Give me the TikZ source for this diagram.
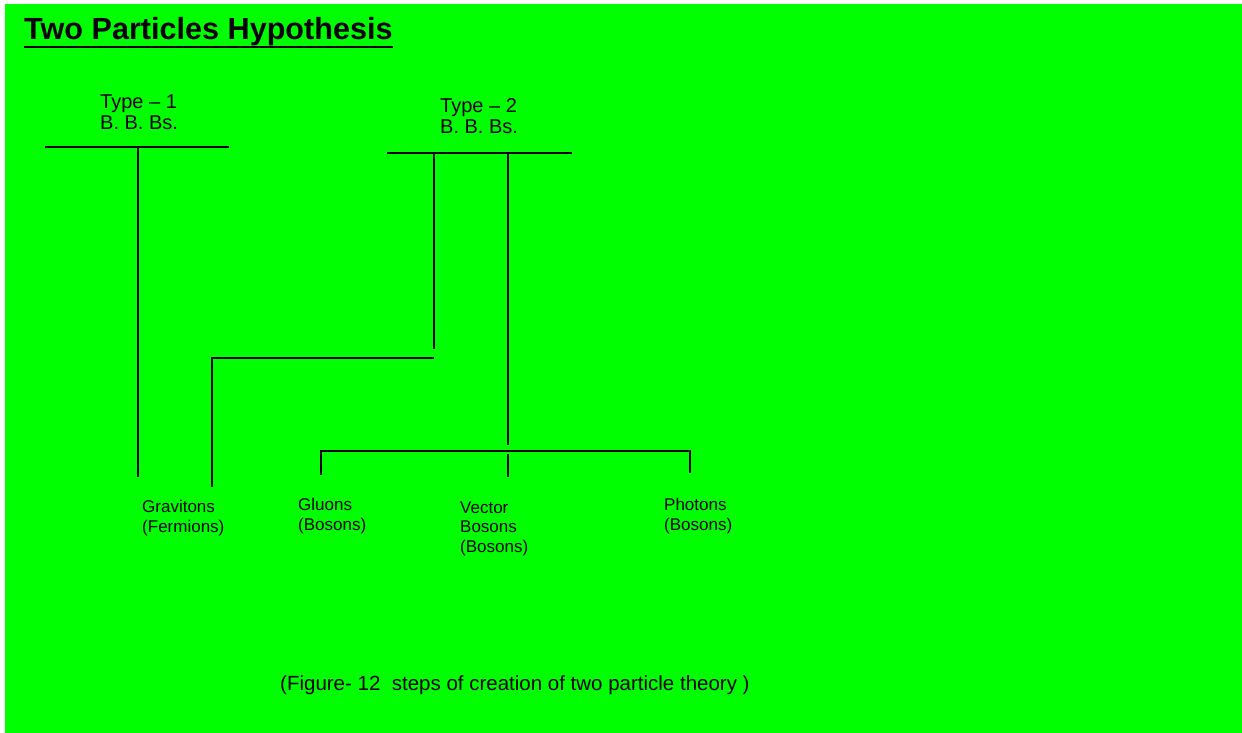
\documentclass[tikz,border=0pt]{standalone}
\usepackage{fontspec}
\setmainfont{Liberation Sans}

\tikzset{
  wire/.style={black, line width=1.5pt},
  lbl/.style={anchor=base west, inner sep=0pt, align=left, font=\fontsize{17}{19.5}\selectfont},
  typelbl/.style={anchor=base west, inner sep=0pt, align=left, font=\fontsize{20}{21.5}\selectfont},
}

\begin{document}
\begin{tikzpicture}[x=1pt,y=-1pt]
\useasboundingbox (0,0) rectangle (1242,733);
\fill [white] (0,0) rectangle (1242,733);
\fill [green] (5,4) rectangle (1242,733);
% title
\node [anchor=base west, inner sep=0pt, font=\bfseries\fontsize{30.6}{36}\selectfont] (title) at (24,40) {Two Particles Hypothesis};
\draw [line width=2.5pt] ([yshift=-7pt]title.base west) -- ([yshift=-7pt]title.base east);
% type labels (anchored on the last line)
\node [typelbl] (type1) at (100,130) {Type – 1\\B. B. Bs.};
\node [typelbl] (type2) at (440,134) {Type – 2\\B. B. Bs.};
% particle labels
\node [lbl] (grav) at (142,532) {Gravitons\\(Fermions)};
\node [lbl] (gluon) at (298,530) {Gluons\\(Bosons)};
\node [lbl] (vector) at (460,552) {Vector\\Bosons\\(Bosons)};
\node [lbl] (photon) at (664,530) {Photons\\(Bosons)};
\node [lbl, font=\fontsize{20.5}{24}\selectfont] (caption) at (280,690) {(Figure- 12~ steps of creation of two particle theory )};
% junction points
\coordinate (t1l) at (45,147);
\coordinate (t1r) at (229,147);
\coordinate (t1m) at (138,147);
\coordinate (t1end) at (138,477);
\coordinate (t2l) at (387,153);
\coordinate (t2r) at (572,153);
\coordinate (t2a) at (434,153);
\coordinate (t2aend) at (434,349);
\coordinate (kneer) at (434,358);
\coordinate (kneel) at (212,358);
\coordinate (gravend) at (212,487);
\coordinate (t2b) at (508,153);
\coordinate (t2bend) at (508,445);
\coordinate (busl) at (321,451);
\coordinate (busr) at (690,451);
\coordinate (busm) at (508,454);
\coordinate (gluonend) at (321,475);
\coordinate (vectorend) at (508,477);
\coordinate (photonend) at (690,473);
% type 1 branch
\draw [wire] (t1l) -- (t1r);
\draw [wire] (t1m) -- (t1end);
% type 2 branches
\draw [wire] (t2l) -- (t2r);
\draw [wire] (t2a) -- (t2aend);
\draw [wire] (kneer) -- (kneel) -- (gravend);
\draw [wire] (t2b) -- (t2bend);
\draw [wire] (gluonend) -- (busl) -- (busr) -- (photonend);
\draw [wire] (busm) -- (vectorend);
\end{tikzpicture}
\end{document}
